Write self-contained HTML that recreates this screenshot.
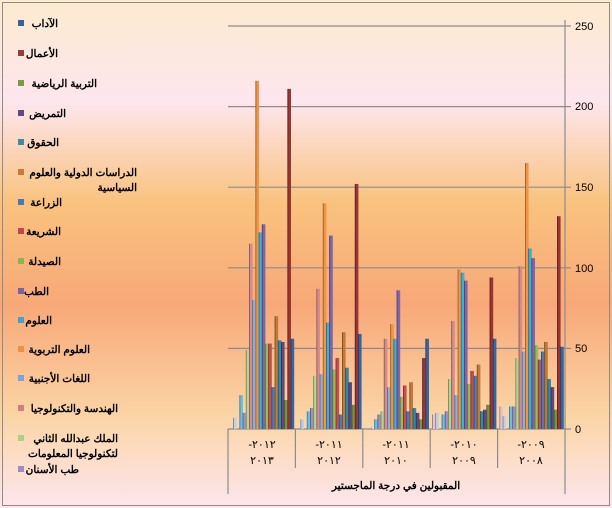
<!DOCTYPE html>
<html><head><meta charset="utf-8"><style>
html,body{margin:0;padding:0;width:612px;height:508px;overflow:hidden}
svg{display:block}
text{font-family:"Liberation Sans","Noto Sans CJK SC",sans-serif}
.lg{font-size:10.5px;font-weight:bold;fill:#000}
</style></head><body>
<svg width="612" height="508" viewBox="0 0 612 508" xmlns="http://www.w3.org/2000/svg">
<defs>
<linearGradient id="bg" x1="0" y1="0" x2="0" y2="1">
<stop offset="0" stop-color="#fcebcf"/>
<stop offset="0.2" stop-color="#fde6ee"/>
<stop offset="0.4" stop-color="#f9c27e"/>
<stop offset="0.6" stop-color="#f8a878"/>
<stop offset="0.82" stop-color="#fbd5a6"/>
<stop offset="1" stop-color="#fde6ee"/>
</linearGradient>
</defs>
<rect x="0" y="0" width="612" height="508" fill="url(#bg)"/>
<rect x="2.5" y="2.5" width="607" height="503" fill="none" stroke="#8c8c8c" stroke-width="1"/>
<g stroke="#8c8c8c" stroke-width="1.2">
<line x1="228" y1="26" x2="565" y2="26"/>
<line x1="228" y1="106.6" x2="565" y2="106.6"/>
<line x1="228" y1="187.2" x2="565" y2="187.2"/>
<line x1="228" y1="267.8" x2="565" y2="267.8"/>
<line x1="228" y1="348.4" x2="565" y2="348.4"/>
<line x1="228" y1="429" x2="565" y2="429"/>
<line x1="565" y1="20" x2="565" y2="494"/>
<line x1="228" y1="429" x2="228" y2="494"/>
<line x1="295.4" y1="429" x2="295.4" y2="468"/>
<line x1="362.8" y1="429" x2="362.8" y2="468"/>
<line x1="430.2" y1="429" x2="430.2" y2="468"/>
<line x1="497.6" y1="429" x2="497.6" y2="468"/>
<line x1="565" y1="26" x2="571" y2="26"/>
<line x1="565" y1="106.6" x2="571" y2="106.6"/>
<line x1="565" y1="187.2" x2="571" y2="187.2"/>
<line x1="565" y1="267.8" x2="571" y2="267.8"/>
<line x1="565" y1="348.4" x2="571" y2="348.4"/>
<line x1="565" y1="429" x2="571" y2="429"/>
</g>
<g font-size="11" fill="#000">
<text x="575" y="30">250</text>
<text x="575" y="110">200</text>
<text x="575" y="191">150</text>
<text x="575" y="272">100</text>
<text x="575" y="352">50</text>
<text x="575" y="433">0</text>
</g>
<g id="bars"></g>
<g font-size="11" fill="#000" text-anchor="middle">
<text x="262" y="448">-٢٠١٢</text><text x="262" y="464">٢٠١٣</text>
<text x="329" y="448">-٢٠١١</text><text x="329" y="464">٢٠١٢</text>
<text x="396" y="448">-٢٠١١</text><text x="396" y="464">٢٠١٠</text>
<text x="464" y="448">-٢٠١٠</text><text x="464" y="464">٢٠٠٩</text>
<text x="531" y="448">-٢٠٠٩</text><text x="531" y="464">٢٠٠٨</text>
<text x="396" y="489" font-weight="bold" font-size="10.5">المقبولين في درجة الماجستير</text>
</g>
<g class="lg" text-anchor="end">
<rect x="18" y="20" width="6" height="6" fill="#3a6197"/><text x="58" y="27" class="lg">الآداب</text>
<rect x="18" y="50" width="6" height="6" fill="#9b3a38"/><text x="58" y="57" class="lg">الأعمال</text>
<rect x="18" y="80" width="6" height="6" fill="#7d9a42"/><text x="97" y="87" class="lg">التربية الرياضية</text>
<rect x="18" y="110" width="6" height="6" fill="#5f4a82"/><text x="66" y="117" class="lg">التمريض</text>
<rect x="18" y="139" width="6" height="6" fill="#3a8da4"/><text x="59" y="146" class="lg">الحقوق</text>
<rect x="18" y="169" width="6" height="6" fill="#c77935"/><text x="137" y="176" class="lg">الدراسات الدولية والعلوم</text><text x="137" y="191" class="lg">السياسية</text>
<rect x="18" y="199" width="6" height="6" fill="#4a78b8"/><text x="62" y="206" class="lg">الزراعة</text>
<rect x="18" y="228" width="6" height="6" fill="#c04a4a"/><text x="61" y="235" class="lg">الشريعة</text>
<rect x="18" y="258" width="6" height="6" fill="#8fb24f"/><text x="61" y="265" class="lg">الصيدلة</text>
<rect x="18" y="288" width="6" height="6" fill="#7b62a6"/><text x="49" y="295" class="lg">الطب</text>
<rect x="18" y="317" width="6" height="6" fill="#41a5c2"/><text x="52" y="324" class="lg">العلوم</text>
<rect x="18" y="346" width="6" height="6" fill="#ef8f45"/><text x="90" y="353" class="lg">العلوم التربوية</text>
<rect x="18" y="375" width="6" height="6" fill="#7fa3d6"/><text x="90" y="382" class="lg">اللغات الأجنبية</text>
<rect x="18" y="405" width="6" height="6" fill="#d27f80"/><text x="118" y="412" class="lg">الهندسة والتكنولوجيا</text>
<rect x="18" y="435" width="6" height="6" fill="#acd08a"/><text x="118" y="442" class="lg">الملك عبدالله الثاني</text><text x="118" y="457" class="lg">لتكنولوجيا المعلومات</text>
<rect x="18" y="466" width="6" height="6" fill="#9c8cc0"/><text x="79" y="473" class="lg">طب الأسنان</text>
</g>
</svg>
<script>
var cols=["#e8c4c8","#c3cfe6","#dddddd","#6cc0dc","#a190c6","#b7d58d","#d48c8c","#8fafdc","#f29445","#44aecb","#7d66ab","#98bd56","#c44f4d","#4b7bbd","#c27a38","#36899f","#5f4982","#76963c","#993634","#3a659c"];
var data=[
[0,7,0,21,10,49,115,80,216,122,127,53,53,26,70,55,54,18,211,56],
[0,6,0,11,13,33,87,34,140,66,120,37,44,9,60,38,29,15,152,59],
[0,0,1,6,9,11,56,26,65,56,86,20,27,11,29,13,10,6,44,56],
[9,10,0,9,11,31,67,21,99,97,92,28,36,33,40,11,12,15,94,56],
[14,8,0,14,14,44,101,48,165,112,106,52,43,48,54,31,26,12,132,51]];
var g=document.getElementById("bars"),s="";
for(var c=0;c<5;c++){for(var i=0;i<20;i++){var v=data[c][i];if(!v)continue;
var x=228+c*67.4+1.8+i*3.2,h=v*1.612,y=429-h;
s+='<rect x="'+x.toFixed(2)+'" y="'+y.toFixed(2)+'" width="3.6" height="'+h.toFixed(2)+'" fill="'+cols[i]+'"/>';
s+='<rect x="'+x.toFixed(2)+'" y="'+y.toFixed(2)+'" width="0.9" height="'+h.toFixed(2)+'" fill="#000" opacity="0.35"/>';}}
g.innerHTML=s;
</script>
</body></html>
